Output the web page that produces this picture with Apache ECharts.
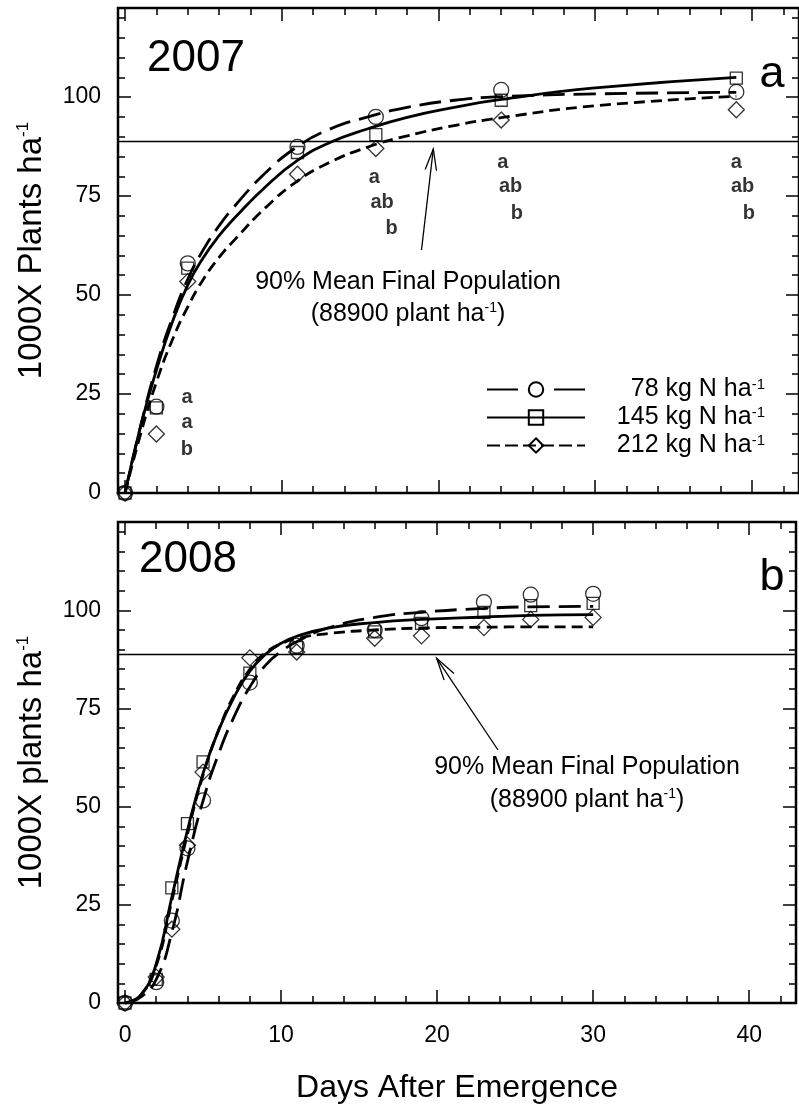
<!DOCTYPE html>
<html>
<head>
<meta charset="utf-8">
<script src="https://cdn.jsdelivr.net/npm/echarts@6/dist/echarts.min.js"></script>
<style>
html, body { margin: 0; padding: 0; background: #fff; }
#main { width: 799px; height: 1105px; }
</style>
</head>
<body>
<div id="main"></div>
<script>
// treatments (N rate, kg N ha-1)
const treatments = ['78 kg N ha', '145 kg N ha', '212 kg N ha'];

// 2007 observed stands (1000X plants ha-1)
const days2007 = [0, 2, 4, 11, 16, 24, 39];
const n78_2007 = [0, 21.8, 58, 87.4, 95, 101.8, 101.3];
const n145_2007 = [0, 21.5, 56.8, 86, 90.5, 99.2, 104.8];
const n212_2007 = [0, 14.9, 53.4, 80.5, 87, 94.2, 96.8];

// 2007 fitted curves
const fitDays2007 = [0, 1, 2, 3, 4, 5, 6, 7, 9, 11, 13, 15.5, 18, 21, 24, 30, 39];
const fit78_2007 = [0, 17, 32, 44, 54, 61.5, 67.5, 72.5, 81, 87.5, 91.8, 95, 97.4, 99.2, 100.1, 100.8, 101.2];
const fit145_2007 = [0, 17, 31, 43, 52.5, 59.5, 65, 69.5, 77.5, 84, 88.4, 92, 94.9, 97.4, 99.4, 102.3, 105];
const fit212_2007 = [0, 15, 28, 38.5, 47, 54, 59.5, 64, 72.2, 78.8, 83.4, 87.4, 90.2, 92.8, 94.8, 97.8, 100.2];

// 2008 observed stands
const days2008 = [0, 2, 3, 4, 5, 8, 11, 16, 19, 23, 26, 30];
const n78_2008 = [0, 5.3, 21, 39.4, 51.6, 81.6, 91, 95, 98, 102.1, 104, 104.2];
const n145_2008 = [0, 6, 29.3, 45.7, 61.4, 84, 90.5, 94.5, 96.7, 99.5, 101.2, 101.8];
const n212_2008 = [0, 6.6, 18.8, 40.2, 58.8, 87.9, 89.4, 92.9, 93.5, 95.6, 97.7, 98.2];

// 2008 fitted curves
const fitDays2008 = [0, 1, 2, 3, 4, 5, 6, 7, 8, 9, 10, 11, 13, 16, 19, 23, 26, 30];
const fit78_2008 = [0, 1.5, 6, 18, 36, 51.5, 63.5, 73, 80.5, 86, 89.5, 92, 95.5, 98.2, 99.5, 100.5, 100.9, 101];
const fit145_2008 = [0, 2, 10, 27, 44, 58.5, 69.5, 78, 84.5, 88.8, 91.6, 93.4, 95.5, 96.9, 97.7, 98.3, 98.7, 98.9];
const fit212_2008 = [0, 2, 9.5, 26, 43, 58, 69.5, 78.5, 85, 89.2, 91.5, 92.8, 94.1, 95, 95.5, 95.7, 95.8, 95.8];

// 90% of mean final population
const threshold = 88.9;

// mean separation letters: [day, value, letter]
const letters2007 = [
  [3.95, 24.2, 'a'], [3.95, 17.7, 'a'], [3.95, 10.9, 'b'],
  [15.9, 79.8, 'a'], [16.4, 73.5, 'ab'], [17.0, 66.9, 'b'],
  [24.1, 83.6, 'a'], [24.6, 77.3, 'ab'], [25.0, 70.7, 'b'],
  [39.0, 83.6, 'a'], [39.4, 77.3, 'ab'], [39.8, 70.7, 'b']
];

const FONT = "'Liberation Sans', Arial, Helvetica, sans-serif";
const X_MIN = -0.45, X_MAX = 43, Y_MIN = 0, Y_MAX = 122.5;

const styles = [
  { symbol: 'circle', size: 15, dash: [22, 9], legendDash: [31, 36] },
  { symbol: 'rect', size: 12, dash: 'solid', legendDash: 'solid' },
  { symbol: 'diamond', size: 16, dash: [11, 6], legendDash: [13, 5] }
];

const chart = echarts.init(document.getElementById('main'));

function tick(len) {
  return { show: true, inside: true, length: len, lineStyle: { color: '#000', width: 1.5 } };
}

// 4 x axes per grid: bottom major / minor, top major / minor
function xAxes(g, withLabels) {
  const base = {
    gridIndex: g, type: 'value', min: X_MIN, max: X_MAX,
    axisLine: { show: false, onZero: false }, splitLine: { show: false },
    axisLabel: { show: false }
  };
  const bottom = Object.assign({}, base, { position: 'bottom', splitNumber: 4, axisTick: tick(13) });
  if (withLabels) {
    bottom.axisLabel = {
      show: true, margin: 21, fontSize: 23, fontFamily: FONT, color: '#000',
      formatter: function (v) { return Math.abs(v % 10) < 1e-9 ? String(v) : ''; }
    };
    bottom.name = 'Days After Emergence';
    bottom.nameLocation = 'middle';
    bottom.nameGap = 69;
    bottom.nameTextStyle = { fontSize: 32, fontFamily: FONT, color: '#000' };
  }
  return [
    bottom,
    Object.assign({}, base, { position: 'bottom', splitNumber: 22, axisTick: tick(7) }),
    Object.assign({}, base, { position: 'top', splitNumber: 4, axisTick: tick(13) }),
    Object.assign({}, base, { position: 'top', splitNumber: 22, axisTick: tick(7) })
  ];
}

// 4 y axes per grid: left major / minor, right major / minor
function yAxes(g, title) {
  const base = {
    gridIndex: g, type: 'value', min: Y_MIN, max: Y_MAX,
    axisLine: { show: false, onZero: false }, splitLine: { show: false },
    axisLabel: { show: false }
  };
  const left = Object.assign({}, base, {
    position: 'left', interval: 25, axisTick: tick(13),
    axisLabel: {
      show: true, margin: 17, fontSize: 23, fontFamily: FONT, color: '#000',
      formatter: function (v) { return v % 25 === 0 ? String(v) : ''; }
    },
    name: '{t|' + title + '}{s|-1}',
    nameLocation: 'middle', nameRotate: 90, nameGap: 70,
    nameTextStyle: {
      fontFamily: FONT, color: '#000',
      rich: {
        t: { fontSize: 33, fontFamily: FONT, color: '#000' },
        s: { fontSize: 17, fontFamily: FONT, color: '#000', verticalAlign: 'top' }
      }
    }
  });
  return [
    left,
    Object.assign({}, base, { position: 'left', interval: 5, axisTick: tick(7) }),
    Object.assign({}, base, { position: 'right', interval: 25, axisTick: tick(13) }),
    Object.assign({}, base, { position: 'right', interval: 5, axisTick: tick(7) })
  ];
}

function yearSeries(g, days, obs, fitDays, fits) {
  const out = [];
  fits.forEach(function (fit, i) {
    out.push({
      type: 'line', name: 'fit' + g + '_' + i, xAxisIndex: 4 * g, yAxisIndex: 4 * g,
      data: fitDays.map(function (d, k) { return [d, fit[k]]; }),
      smooth: 0.5, symbol: 'none', silent: true, z: 3,
      lineStyle: { color: '#000', width: 2.8, type: styles[i].dash }
    });
  });
  obs.forEach(function (vals, i) {
    out.push({
      type: 'scatter', name: 'obs' + g + '_' + i, xAxisIndex: 4 * g, yAxisIndex: 4 * g,
      data: days.map(function (d, k) { return [d, vals[k]]; }),
      symbol: styles[i].symbol, symbolSize: styles[i].size, silent: true, z: 4,
      itemStyle: { color: 'transparent', borderColor: '#000', borderWidth: 1.3 }
    });
  });
  // 90% mean final population line
  out.push({
    type: 'line', name: 'ref' + g, xAxisIndex: 4 * g, yAxisIndex: 4 * g, data: [],
    markLine: {
      silent: true, symbol: 'none', label: { show: false }, animation: false,
      lineStyle: { color: '#000', width: 1.3, type: 'solid' },
      data: [{ yAxis: threshold }]
    }
  });
  return out;
}

const series = []
  .concat(yearSeries(0, days2007, [n78_2007, n145_2007, n212_2007], fitDays2007,
    [fit78_2007, fit145_2007, fit212_2007]))
  .concat(yearSeries(1, days2008, [n78_2008, n145_2008, n212_2008], fitDays2008,
    [fit78_2008, fit145_2008, fit212_2008]));

// dummy series that only feed the legend
treatments.forEach(function (t, i) {
  series.push({
    type: 'line', name: t, xAxisIndex: 0, yAxisIndex: 0, data: [],
    symbol: styles[i].symbol, symbolSize: styles[i].size,
    itemStyle: { color: 'transparent', borderColor: '#000', borderWidth: 1.3 },
    lineStyle: { color: '#000', width: 2.8, type: styles[i].legendDash }
  });
});

// significance letters
series.push({
  type: 'scatter', name: 'letters', xAxisIndex: 0, yAxisIndex: 0, silent: true, z: 5,
  symbolSize: 1, itemStyle: { color: 'transparent' },
  data: letters2007.map(function (l) { return { name: l[2], value: [l[0], l[1]] }; }),
  label: {
    show: true, position: 'inside', formatter: '{b}',
    fontSize: 20, fontWeight: 'bold', fontFamily: FONT, color: '#000'
  }
});

function arrow(tail, head, theta, len) {
  const dx = tail[0] - head[0], dy = tail[1] - head[1];
  const d = Math.sqrt(dx * dx + dy * dy);
  const ux = dx / d, uy = dy / d;
  const a = theta * Math.PI / 180;
  const w1 = [head[0] + len * (ux * Math.cos(a) - uy * Math.sin(a)), head[1] + len * (ux * Math.sin(a) + uy * Math.cos(a))];
  const w2 = [head[0] + len * (ux * Math.cos(-a) - uy * Math.sin(-a)), head[1] + len * (ux * Math.sin(-a) + uy * Math.cos(-a))];
  const ls = { stroke: '#000', lineWidth: 1.3, fill: null };
  return [
    { type: 'polyline', silent: true, shape: { points: [tail, head] }, style: ls },
    { type: 'polyline', silent: true, shape: { points: [w1, head, w2] }, style: ls }
  ];
}

function label(x, y, text, size) {
  return {
    type: 'text', silent: true, x: x, y: y,
    style: { text: text, fontSize: size, fontFamily: FONT, fill: '#000', textAlign: 'center', textVerticalAlign: 'middle' }
  };
}

function popText(x, y) {
  return {
    type: 'text', silent: true, x: x, y: y,
    style: {
      text: '{t|(88900 plant ha}{s|-1}{t|)}',
      fontFamily: FONT, fill: '#000', textAlign: 'center', textVerticalAlign: 'middle',
      rich: {
        t: { fontSize: 25, fontFamily: FONT, fill: '#000' },
        s: { fontSize: 14, fontFamily: FONT, fill: '#000', verticalAlign: 'top' }
      }
    }
  };
}

const graphics = [
  label(196, 59, '2007', 44),
  label(772, 75, 'a', 45),
  label(188, 560, '2008', 44),
  label(772, 578, 'b', 45),
  label(408, 282, '90% Mean Final Population', 25),
  popText(408, 314),
  label(587, 767, '90% Mean Final Population', 25),
  popText(587, 800)
].concat(arrow([421.5, 250], [433.3, 149], 15, 22))
 .concat(arrow([498, 750], [436.7, 658.3], 15, 23));

chart.setOption({
  animation: false,
  backgroundColor: '#fff',
  textStyle: { fontFamily: FONT },
  grid: [
    { left: 118, top: 8, width: 681, height: 485, show: true, borderColor: '#000', borderWidth: 2.5, containLabel: false },
    { left: 118, top: 522, width: 681, height: 484, show: true, borderColor: '#000', borderWidth: 2.5, containLabel: false }
  ],
  xAxis: xAxes(0, false).concat(xAxes(1, true)),
  yAxis: yAxes(0, '1000X Plants ha').concat(yAxes(1, '1000X plants ha')),
  legend: {
    data: treatments,
    orient: 'vertical', left: 481, top: 372,
    itemWidth: 98, itemHeight: 18, itemGap: 3,
    selectedMode: false,
    formatter: function (name) { return '{t|' + name + '}{s|-1}'; },
    textStyle: {
      width: 175, color: '#000', fontFamily: FONT,
      rich: {
        t: { fontSize: 25, fontFamily: FONT, color: '#000', align: 'right' },
        s: { fontSize: 15, fontFamily: FONT, color: '#000', align: 'right', verticalAlign: 'top' }
      }
    }
  },
  graphic: graphics,
  series: series
});
</script>
</body>
</html>
